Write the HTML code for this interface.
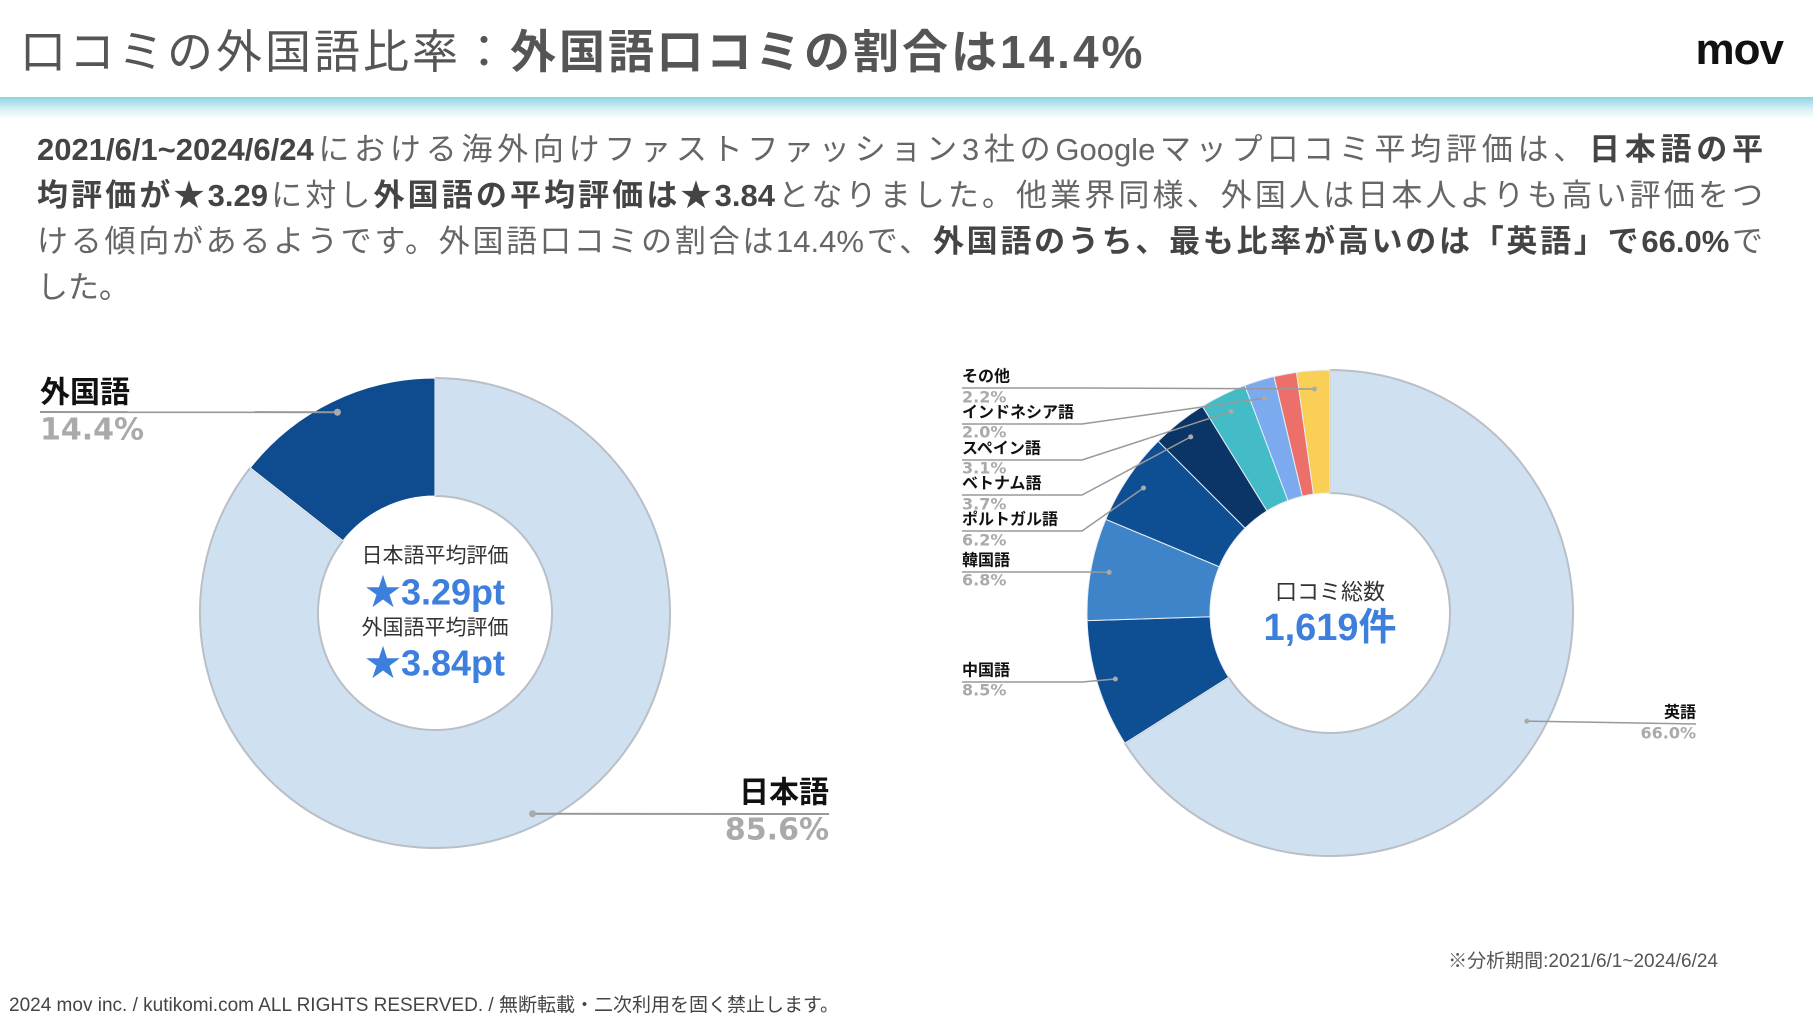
<!DOCTYPE html>
<html lang="ja"><head><meta charset="utf-8">
<style>
html,body{margin:0;padding:0;background:#fff;}
body{width:1813px;height:1020px;position:relative;overflow:hidden;font-family:"Liberation Sans","Noto Sans CJK JP",sans-serif;color:#555;}
.title{position:absolute;left:20px;top:22px;font-size:46px;line-height:60px;color:#555;white-space:nowrap;letter-spacing:3px;}
.title b{font-weight:700;color:#555;}
.logo{position:absolute;right:30px;top:22px;font-size:44px;font-weight:700;color:#111;line-height:56px;letter-spacing:-1px;}
.band{position:absolute;left:0;top:97px;width:1813px;height:22px;background:linear-gradient(#8dd3e2,#d3eef4 50%,#fff);}
.para{position:absolute;left:37px;top:127px;width:1726px;font-size:31px;line-height:46px;color:#666;}
.para div{white-space:nowrap;text-align:justify;text-align-last:justify;}
.para div.last{text-align-last:left;}
.para b{color:#444;}
.note{position:absolute;right:95px;top:946px;font-size:19px;color:#555;}
.foot{position:absolute;left:9px;top:990px;font-size:19px;color:#444;}
svg{position:absolute;left:0;top:0;}
</style></head>
<body>
<div class="title">口コミの外国語比率：<b>外国語口コミの割合は14.4%</b></div>
<div class="logo">mov</div>
<div class="band"></div>
<div class="para">
<div><b>2021/6/1~2024/6/24</b>における海外向けファストファッション3社のGoogleマップ口コミ平均評価は、<b>日本語の平</b></div>
<div><b>均評価が★3.29</b>に対し<b>外国語の平均評価は★3.84</b>となりました。他業界同様、外国人は日本人よりも高い評価をつ</div>
<div>ける傾向があるようです。外国語口コミの割合は14.4%で、<b>外国語のうち、最も比率が高いのは「英語」で66.0%</b>で</div>
<div class="last">した。</div>
</div>
<svg id="chart" width="1813" height="1020"></svg>
<div class="note">※分析期間:2021/6/1~2024/6/24</div>
<div class="foot">2024 mov inc. / kutikomi.com ALL RIGHTS RESERVED. / 無断転載・二次利用を固く禁止します。</div>
<script>
const leftCats=["日本語","外国語"];
const leftVals=[85.6,14.4];
const rightCats=["英語","中国語","韓国語","ポルトガル語","ベトナム語","スペイン語","インドネシア語","","その他"];
const rightVals=[66.0,8.5,6.8,6.2,3.7,3.1,2.0,1.5,2.2];
const rightLabels=["66.0%","8.5%","6.8%","6.2%","3.7%","3.1%","2.0%","","2.2%"];

const NS="http://www.w3.org/2000/svg";
const svg=document.getElementById('chart');
const JP='"Liberation Sans","Noto Sans CJK JP",sans-serif';
const DV='"DejaVu Sans","Liberation Sans",sans-serif';
function mk(t,a,p){const e=document.createElementNS(NS,t);for(const k in a)e.setAttribute(k,a[k]);(p||svg).appendChild(e);return e;}
function pt(cx,cy,r,f){const a=f*2*Math.PI;return [cx+r*Math.sin(a),cy-r*Math.cos(a)];}
function arc(cx,cy,R,r,f0,f1){
  const [x0,y0]=pt(cx,cy,R,f0),[x1,y1]=pt(cx,cy,R,f1),[x2,y2]=pt(cx,cy,r,f1),[x3,y3]=pt(cx,cy,r,f0);
  const l=(f1-f0)>0.5?1:0;
  return `M${x0},${y0}A${R},${R} 0 ${l} 1 ${x1},${y1}L${x2},${y2}A${r},${r} 0 ${l} 0 ${x3},${y3}Z`;
}
function txt(x,y,s,size,fill,weight,anchor,name,fam){
  const t=mk('text',{x:x,y:y,'font-size':size,fill:fill,'font-weight':weight||400,'text-anchor':anchor||'start','dominant-baseline':'central','font-family':fam||JP});
  t.textContent=s;
  
  
  return t;
}
// Left donut
const L={cx:435,cy:613,R:235,r:117};
const leftCols=["#cfe0f1","#0e4b8f"];
const lTot=leftVals.reduce((a,b)=>a+b,0);
let f=0;
const leftSeg=[];
leftVals.forEach((v,i)=>{const f1=f+v/lTot;leftSeg.push([f,f1]);
  const p=mk('path',{d:arc(L.cx,L.cy,L.R,L.r,f,f1),fill:leftCols[i],stroke:i==0?'#b9bfc6':'#fff','stroke-width':i==0?2:1});
  
  
  f=f1;});
(function(){
  const dr=L.r+0.9*(L.R-L.r);
  const mj=(leftSeg[0][0]+leftSeg[0][1])/2, mf=(leftSeg[1][0]+leftSeg[1][1])/2;
  const dj=pt(L.cx,L.cy,dr,mj), df=pt(L.cx,L.cy,dr,mf);
  let l=mk('polyline',{points:`40,412 ${df[0]},${df[1]}`,fill:'none',stroke:'#999','stroke-width':2});
  
  mk('circle',{cx:df[0],cy:df[1],r:3.5,fill:'#aaa'});
  txt(40,393,leftCats[1],30,'#111',700,'start','foreign-label');
  txt(40,430,leftVals[1].toFixed(1)+'%',30,'#aaa',700,'start','foreign-value',DV);
  l=mk('polyline',{points:`${dj[0]},${dj[1]} 829,814`,fill:'none',stroke:'#999','stroke-width':2});
  
  mk('circle',{cx:dj[0],cy:dj[1],r:3.5,fill:'#aaa'});
  txt(829,793,leftCats[0],30,'#111',700,'end','japanese-label');
  txt(829,830,leftVals[0].toFixed(1)+'%',30,'#aaa',700,'end','japanese-value',DV);
  txt(L.cx,556,'日本語平均評価',21,'#333',400,'middle','japanese-avg-title');
  txt(L.cx,592,'★3.29pt',36,'#3d7fdc',700,'middle','japanese-avg-value');
  txt(L.cx,628,'外国語平均評価',21,'#333',400,'middle','foreign-avg-title');
  txt(L.cx,663,'★3.84pt',36,'#3d7fdc',700,'middle','foreign-avg-value');
})();
// Right donut
const Rr={cx:1330,cy:613,R:243,r:120};
const rightCols=["#cfe0f1","#0e4f93","#3f83c8","#0e4f93","#0a3566","#43bcc8","#7caaef","#ec7069","#f9cf56"];
const rTot=rightVals.reduce((a,b)=>a+b,0);
f=0;
const rSeg=[];
rightVals.forEach((v,i)=>{const f1=f+v/rTot;rSeg.push([f,f1]);
  const p=mk('path',{d:arc(Rr.cx,Rr.cy,Rr.R,Rr.r,f,f1),fill:rightCols[i],stroke:i==0?'#b9bfc6':'#e8eef5','stroke-width':i==0?2:1});
  
  
  f=f1;});
const labelY=[[713,733],[671,690],[561,580],[520,540],[484,504],[449,468],[413,432],null,[377,397]];
rightVals.forEach((v,i)=>{
  const ly=labelY[i]; if(!ly) return;
  const m=(rSeg[i][0]+rSeg[i][1])/2;
  const d=pt(Rr.cx,Rr.cy,Rr.r+0.85*(Rr.R-Rr.r),m);
  const uy=ly[0]+11;
  let pts;
  if(i==0){pts=`${d[0]},${d[1]} 1696,${uy}`;}
  else{const kx=Math.min(1082,d[0]); pts=`962,${uy} ${kx},${uy} ${d[0]},${d[1]}`;}
  const l=mk('polyline',{points:pts,fill:'none',stroke:'#999','stroke-width':1.5});
  
  
  mk('circle',{cx:d[0],cy:d[1],r:2.5,fill:'#aaa'});
  const x=i==0?1696:962, an=i==0?'end':'start';
  txt(x,ly[0],rightCats[i],16,'#111',700,an,'label-'+i);
  txt(x,ly[1],rightLabels[i],16,'#aaa',700,an,'value-'+i,DV);
});
txt(Rr.cx,592,'口コミ総数',22,'#333',400,'middle','total-title');
txt(Rr.cx,628,'1,619件',38,'#3d7fdc',700,'middle','total-value');
</script>
</body></html>
